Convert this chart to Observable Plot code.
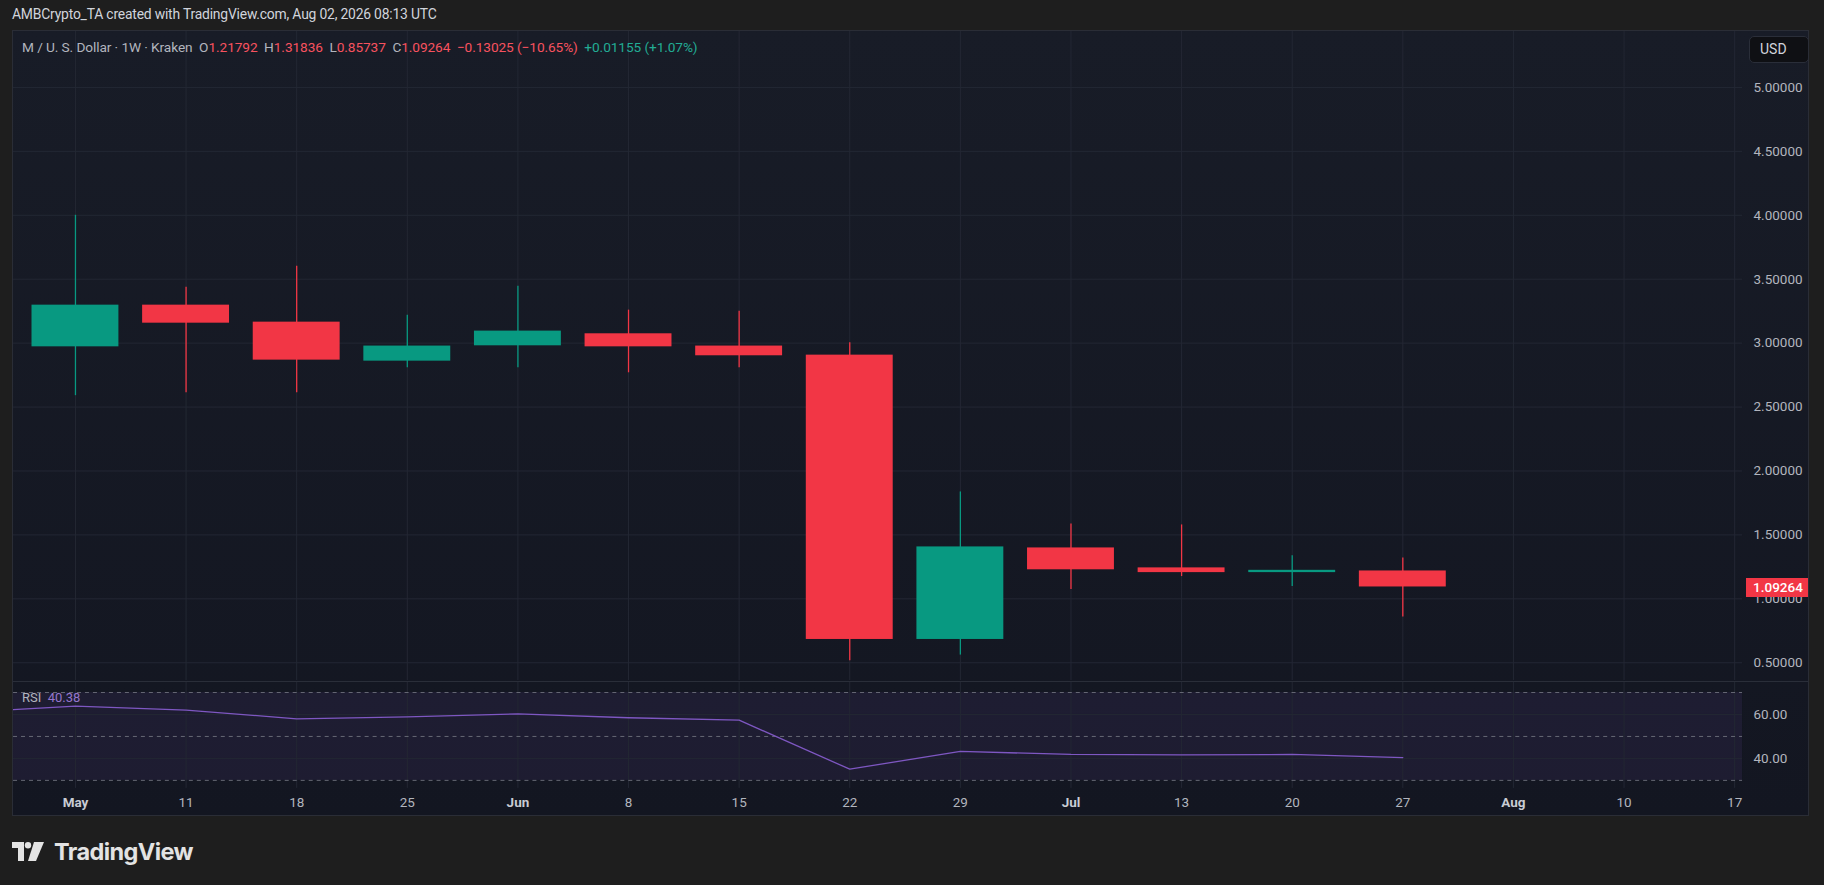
<!DOCTYPE html>
<html>
<head>
<meta charset="utf-8">
<script src="https://cdn.jsdelivr.net/npm/d3@7"></script>
<script src="https://cdn.jsdelivr.net/npm/@observablehq/plot@0.6"></script>
<style>
  html, body { margin: 0; padding: 0; }
  body { width: 1824px; height: 885px; background: #1e1e1e; position: relative; overflow: hidden; font-family: Roboto, "DejaVu Sans", sans-serif; }
  #header { position: absolute; left: 12px; top: 6px; color: #d1d4dc; font-size: 13.9px; letter-spacing: -0.2px; }
  #pane { position: absolute; left: 12px; top: 30px; width: 1797px; height: 786px; background: linear-gradient(#181c27, #131621); border: 1px solid #2a2d36; box-sizing: border-box; overflow: hidden; }
  #price { position: absolute; left: 0; top: 0; }
  #sep { position: absolute; left: 0; top: 650px; width: 1797px; height: 1px; background: #2a2e39; }
  #rsi { position: absolute; left: 0; top: 651px; }
  #legend { position: absolute; left: 9px; top: 8px; font-size: 13.7px; color: #b2b5be; white-space: pre; letter-spacing: -0.1px; }
  #legend .r { color: #f7525f; }
  #legend .g { color: #22ab94; }
  #usd { position: absolute; left: 1736px; top: 5px; width: 60px; height: 27px; background: #0f1014; border: 1px solid #2a2e39; border-radius: 5px; box-sizing: border-box; color: #d1d4dc; font-size: 14px; line-height: 25px; padding-left: 10px; }
  #rsilabel { position: absolute; left: 9px; top: 659px; font-size: 13px; color: #b2b5be; white-space: pre; }
  #rsilabel span { color: #9575cd; }
  #lastprice { position: absolute; left: 1733px; width: 64px; height: 19px; background: #f23645; color: #fff; font-size: 13.5px; font-weight: 500; text-align: center; line-height: 19px; }
  #logo { position: absolute; left: 12px; top: 836px; height: 30px; display: flex; align-items: center; }
  #logo span { color: #e3e3e3; font-family: Inter, Roboto, sans-serif; font-weight: 700; font-size: 23.5px; margin-left: 10px; letter-spacing: -0.6px; }
</style>
</head>
<body>
<div id="header">AMBCrypto_TA created with TradingView.com, Aug 02, 2026 08:13 UTC</div>
<div id="pane">
  <div id="price"></div>
  <div id="sep"></div>
  <div id="rsi"></div>
  <div id="legend">M / U. S. Dollar · 1W · Kraken  O<span class="r">1.21792</span>  H<span class="r">1.31836</span>  L<span class="r">0.85737</span>  C<span class="r">1.09264</span>  <span class="r">−0.13025 (−10.65%)</span>  <span class="g">+0.01155 (+1.07%)</span></div>
  <div id="usd">USD</div>
  <div id="rsilabel">RSI  <span>40.38</span></div>
</div>
<div id="logo">
  <svg width="32" height="19" viewBox="0 0 32 19">
    <path d="M0 0 H12 V19 H6 V6 H0 Z" fill="#e3e3e3"/>
    <circle cx="16" cy="3.2" r="3.2" fill="#e3e3e3"/>
    <path d="M22 0 H32 L24 19 H16 Z" fill="#e3e3e3"/>
  </svg>
  <span>TradingView</span>
</div>
<script>
// ---- data (weekly candles, M / USD, Kraken) ----
const weeks = ["2026-05-04","2026-05-11","2026-05-18","2026-05-25","2026-06-01","2026-06-08","2026-06-15","2026-06-22","2026-06-29","2026-07-06","2026-07-13","2026-07-20","2026-07-27"];
const opens  = [2.971, 3.297, 3.164, 2.859, 2.979, 3.073, 2.977, 2.906, 0.682, 1.398, 1.242, 1.205, 1.21792];
const highs  = [4.000, 3.4375, 3.602, 3.219, 3.445, 3.258, 3.250, 3.003, 1.836, 1.586, 1.578, 1.336, 1.31836];
const lows   = [2.589, 2.612, 2.612, 2.807, 2.807, 2.768, 2.807, 0.516, 0.560, 1.073, 1.174, 1.096, 0.85737];
const closes = [3.297, 3.156, 2.867, 2.977, 3.094, 2.971, 2.901, 0.682, 1.406, 1.227, 1.205, 1.22289, 1.09264];

const rsiWeeks  = ["2026-04-27","2026-05-04","2026-05-11","2026-05-18","2026-05-25","2026-06-01","2026-06-08","2026-06-15","2026-06-22","2026-06-29","2026-07-06","2026-07-13","2026-07-20","2026-07-27"];
const rsiValues = [61.0, 63.8, 62.0, 58.0, 58.9, 60.3, 58.5, 57.4, 35.1, 43.2, 41.8, 41.6, 41.8, 40.38];
const rsiLevels = [30, 50, 70];

const tickWeeks  = ["2026-05-04","2026-05-11","2026-05-18","2026-05-25","2026-06-01","2026-06-08","2026-06-15","2026-06-22","2026-06-29","2026-07-06","2026-07-13","2026-07-20","2026-07-27","2026-08-03","2026-08-10","2026-08-17"];
const tickLabels = ["May","11","18","25","Jun","8","15","22","29","Jul","13","20","27","Aug","10","17"];
const priceTicks = [0.5, 1, 1.5, 2, 2.5, 3, 3.5, 4, 4.5, 5];
const rsiTicks   = [40, 60];

// ---- build ----
const day = 864e5;
const parse = s => new Date(s + "T00:00:00Z");
const candles = weeks.map((w, i) => ({date: parse(w), open: opens[i], high: highs[i], low: lows[i], close: closes[i]}));
const rsi = rsiWeeks.map((w, i) => ({date: parse(w), value: rsiValues[i]}));
const tDates = tickWeeks.map(parse);
const labelOf = new Map(tDates.map((d, i) => [+d, tickLabels[i]]));

const UP = "#089981", DOWN = "#f23645", GRID = "#232733", AXIS = "#b2b5be";
const W = 1797, MR = 66;
const xDomain = [new Date(+tDates[0] - 3.92 * day), new Date(+tDates[tDates.length - 1] + 0.5 * day)];
const halfBody = 2.75 * day;
const col = d => d.close >= d.open ? UP : DOWN;

const price = Plot.plot({
  width: W, height: 650,
  marginLeft: 0, marginRight: MR, marginTop: 0, marginBottom: 0,
  style: {background: "transparent", fontFamily: "Roboto, sans-serif", fontSize: "13.5px", color: AXIS},
  x: {type: "utc", domain: xDomain, axis: null},
  y: {domain: [0.359, 5.4375], axis: "right", ticks: priceTicks, tickFormat: d => d.toFixed(5), tickSize: 0, tickPadding: 11, label: null},
  marks: [
    Plot.ruleX(tDates, {stroke: GRID, strokeWidth: 1}),
    Plot.ruleY(priceTicks, {stroke: GRID, strokeWidth: 1}),
    Plot.ruleX(candles, {x: "date", y1: "low", y2: "high", stroke: col, strokeWidth: 1.3}),
    Plot.rect(candles, {
      x1: d => new Date(+d.date - halfBody), x2: d => new Date(+d.date + halfBody),
      y1: "open", y2: "close", fill: col
    })
  ]
});
document.getElementById("price").appendChild(price);

const rsiChart = Plot.plot({
  width: W, height: 135,
  marginLeft: 0, marginRight: MR, marginTop: 0, marginBottom: 29,
  style: {background: "transparent", fontFamily: "Roboto, sans-serif", fontSize: "13.5px", color: AXIS},
  x: {type: "utc", domain: xDomain, ticks: tDates, tickFormat: d => labelOf.get(+d), tickSize: 0, tickPadding: 9, label: null},
  y: {domain: [26.36, 74.55], axis: "right", ticks: rsiTicks, tickFormat: d => d.toFixed(2), tickSize: 0, tickPadding: 11, label: null},
  marks: [
    Plot.rect([{lo: rsiLevels[0], hi: rsiLevels[2]}], {x1: () => xDomain[0], x2: () => xDomain[1], y1: "lo", y2: "hi", fill: "#7e57c2", fillOpacity: 0.1}),
    Plot.ruleX(tDates, {stroke: GRID, strokeWidth: 1}),
    Plot.ruleY(rsiTicks, {stroke: GRID, strokeWidth: 1}),
    Plot.ruleY(rsiLevels, {stroke: "#787b86", strokeOpacity: 0.8, strokeDasharray: "4,4", strokeWidth: 1}),
    Plot.line(rsi, {x: "date", y: "value", stroke: "#7e57c2", strokeWidth: 1.3, clip: true})
  ]
});
document.getElementById("rsi").appendChild(rsiChart);

// bold month labels on the time axis
d3.select(rsiChart).selectAll("g[aria-label='x-axis tick label'] text").each(function() {
  if (/^[A-Za-z]/.test(this.textContent)) d3.select(this).attr("font-weight", "bold").attr("fill", "#c9ccd4");
});

// last-price tag positioned through the y scale
const last = candles[candles.length - 1];
const yPix = price.scale("y").apply(last.close);
const tag = document.createElement("div");
tag.id = "lastprice";
tag.textContent = last.close.toFixed(5);
tag.style.top = (yPix - 9.5) + "px";
document.getElementById("pane").appendChild(tag);
</script>
</body>
</html>
